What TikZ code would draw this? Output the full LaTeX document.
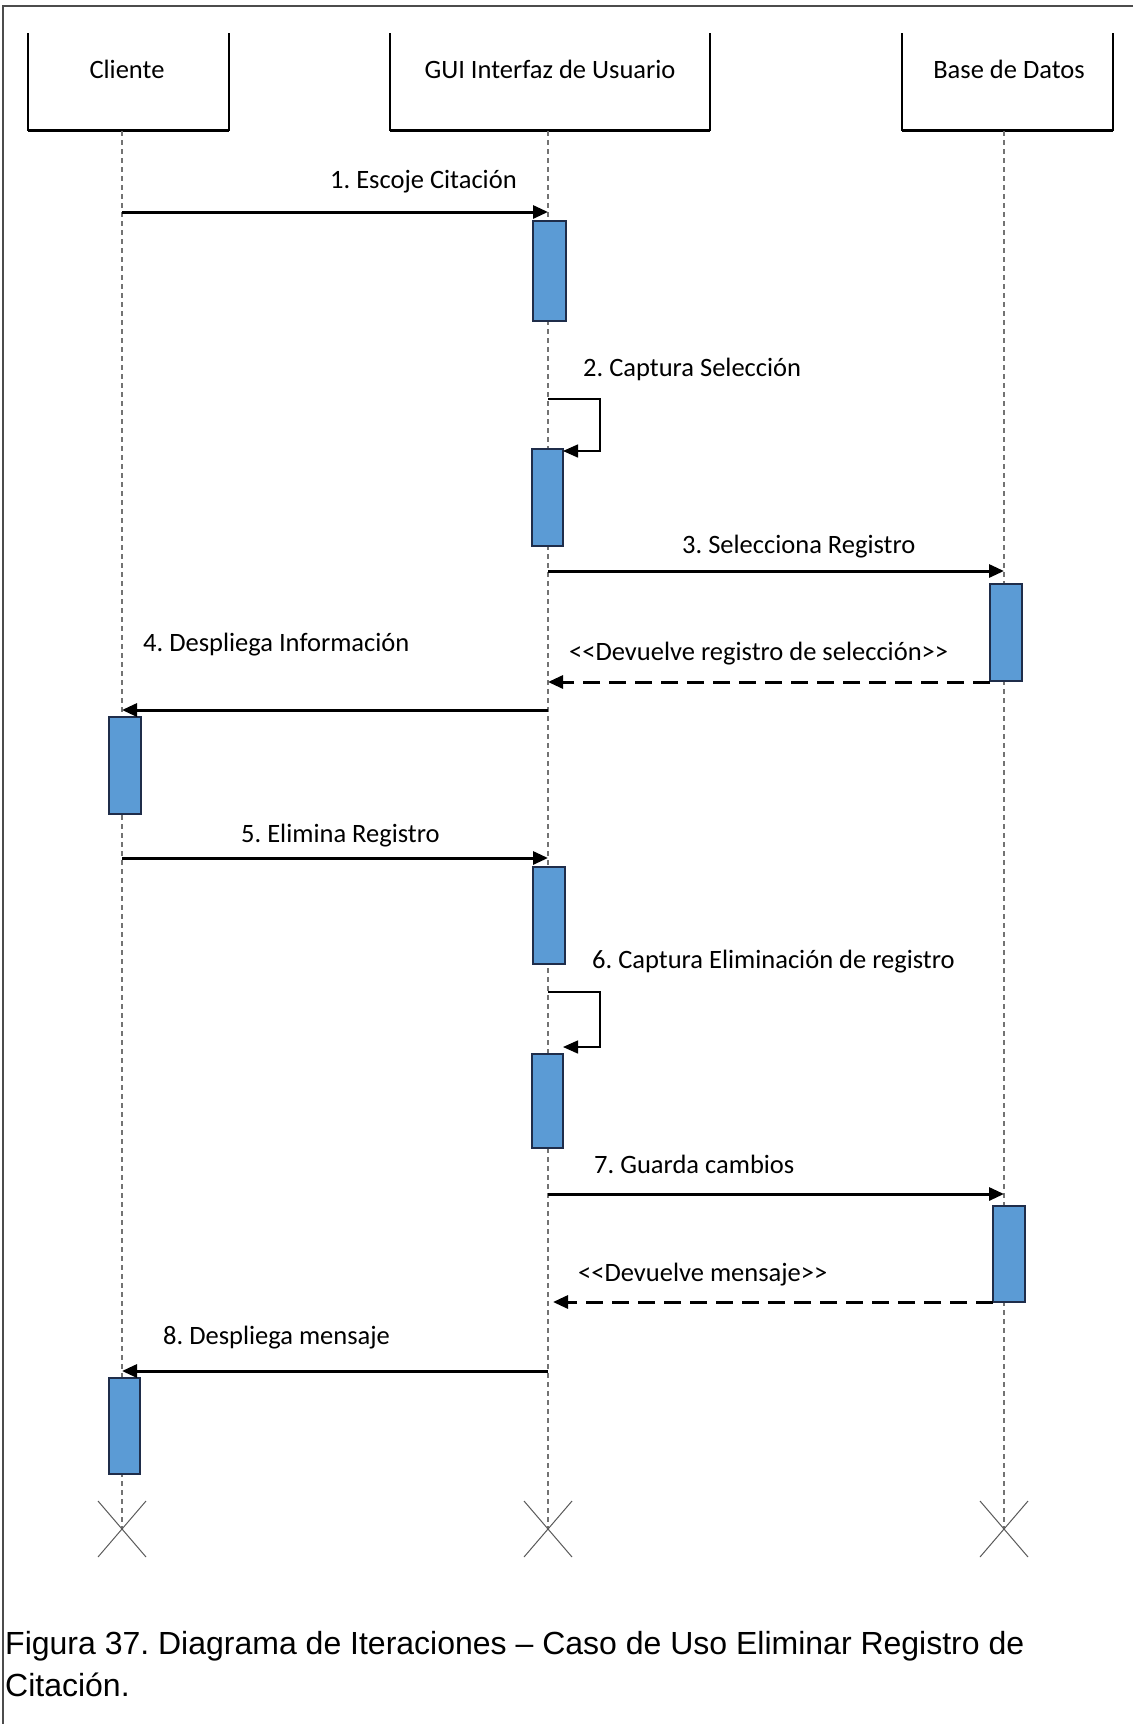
\documentclass[tikz,border=0pt]{standalone}
\usepackage{fontspec}
\setmainfont{Carlito}
\newfontfamily\captionfont{Liberation Sans}
\usetikzlibrary{arrows.meta}
\definecolor{actfill}{HTML}{5B9BD5}
\definecolor{actdraw}{HTML}{1F2D4A}
\frenchspacing
\begin{document}
\begin{tikzpicture}[x=1pt,y=-1pt,
  lbl/.style={font=\fontsize{26.5}{30}\selectfont, inner sep=0pt, anchor=base west},
  head/.style={font=\fontsize{26.5}{30}\selectfont, inner sep=0pt},
  lifeline/.style={draw=gray!90!black, line width=1.1pt, dash pattern=on 5pt off 4pt},
  msg/.style={line width=3pt, -{Triangle[length=15pt,width=13pt]}},
  reply/.style={line width=3pt, dash pattern=on 17pt off 9pt, -{Triangle[length=15pt,width=13pt]}},
  selfmsg/.style={line width=1.5pt, -{Triangle[length=15pt,width=13pt]}},
  act/.style={draw=actdraw, fill=actfill, line width=2.2pt},
  hbox/.style={line width=1.8pt},
  cross/.style={draw=gray!70!black, line width=1pt},
  figcaption/.style={font=\captionfont\fontsize{32}{42}\selectfont, inner sep=0pt, anchor=base west}]
\useasboundingbox (0,0) rectangle (1133,1724);
% outer frame (top and left edges)
\draw[line width=1.5pt, gray!60!black] (1133,6) -- (3,6) -- (3,1724);

% participant headers (open at the top, heavier bottom edge)
\draw[hbox] (28,33) -- (28,130) -- (229,130) -- (229,33);
\draw[hbox] (390,33) -- (390,130) -- (710,130) -- (710,33);
\draw[hbox] (902,33) -- (902,130) -- (1113,130) -- (1113,33);
\draw[line width=3pt] (28,130) -- (229,130);
\draw[line width=3pt] (390,130) -- (710,130);
\draw[line width=3pt] (902,130) -- (1113,130);
\node[head] (hc) at (127,69) {Cliente};
\node[head] (hg) at (550,69) {GUI Interfaz de Usuario};
\node[head] (hd) at (1009,69) {Base de Datos};

% lifelines
\coordinate (cTop) at (122,131); \coordinate (cEnd) at (122,1529);
\coordinate (gTop) at (548,131); \coordinate (gEnd) at (548,1529);
\coordinate (dTop) at (1004,131); \coordinate (dEnd) at (1004,1529);
\draw[lifeline] (cTop) -- (cEnd);
\draw[lifeline] (gTop) -- (gEnd);
\draw[lifeline] (dTop) -- (dEnd);

% destruction marks
\foreach \c in {cEnd,gEnd,dEnd}{
  \draw[cross] ([shift={(-24,-28)}]\c) -- ([shift={(24,28)}]\c);
  \draw[cross] ([shift={(24,-28)}]\c) -- ([shift={(-24,28)}]\c);
}

% activation bars
\draw[act] (533,221) rectangle (566,321);
\draw[act] (532,449) rectangle (563,546);
\draw[act] (990,584) rectangle (1022,681);
\draw[act] (109,717) rectangle (141,814);
\draw[act] (533,867) rectangle (565,964);
\draw[act] (532,1054) rectangle (563,1148);
\draw[act] (993,1206) rectangle (1025,1302);
\draw[act] (109,1378) rectangle (140,1474);

% message end points on the lifelines
\coordinate (c1) at (122,212);  \coordinate (g1) at (548,212);
\coordinate (g2a) at (548,399); \coordinate (g2b) at (563,451);
\coordinate (g3) at (548,571);  \coordinate (d3) at (1004,571);
\coordinate (d4) at (990,682);  \coordinate (g4) at (548,682);
\coordinate (g5) at (548,710);  \coordinate (c5) at (122,710);
\coordinate (c6) at (122,858);  \coordinate (g6) at (548,858);
\coordinate (g7a) at (548,992); \coordinate (g7b) at (563,1047);
\coordinate (g8) at (548,1194); \coordinate (d8) at (1004,1194);
\coordinate (d9) at (993,1302); \coordinate (g9) at (553,1302);
\coordinate (g10) at (548,1371); \coordinate (c10) at (122,1371);

% messages
\draw[msg] (c1) -- (g1);
\draw[selfmsg] (g2a) -- (600,399) -- (600,451) -- (g2b);
\draw[msg] (g3) -- (d3);
\draw[reply] (d4) -- (g4);
\draw[msg] (g5) -- (c5);
\draw[msg] (c6) -- (g6);
\draw[selfmsg] (g7a) -- (600,992) -- (600,1047) -- (g7b);
\draw[msg] (g8) -- (d8);
\draw[reply] (d9) -- (g9);
\draw[msg] (g10) -- (c10);

% message labels
\node[lbl] (l1) at (330,188) {1. Escoje Citación};
\node[lbl] (l2) at (583,376) {2. Captura Selección};
\node[lbl] (l3) at (682,553) {3. Selecciona Registro};
\node[lbl] (l4r) at (569,660) {<\kern0pt<Devuelve registro de selección>\kern0pt>};
\node[lbl] (l4) at (143,651) {4. Despliega Información};
\node[lbl] (l5) at (241,842) {5. Elimina Registro};
\node[lbl] (l6) at (592,968) {6. Captura Eliminación de registro};
\node[lbl] (l7) at (594,1173) {7. Guarda cambios};
\node[lbl] (l8r) at (578,1281) {<\kern0pt<Devuelve mensaje>\kern0pt>};
\node[lbl] (l8) at (163,1344) {8. Despliega mensaje};

% caption
\node[figcaption] (cap1) at (5,1654)
  {Figura 37. Diagrama de Iteraciones – Caso de Uso Eliminar Registro de};
\node[figcaption] (cap2) at (5,1696) {Citación.};
\end{tikzpicture}
\end{document}
